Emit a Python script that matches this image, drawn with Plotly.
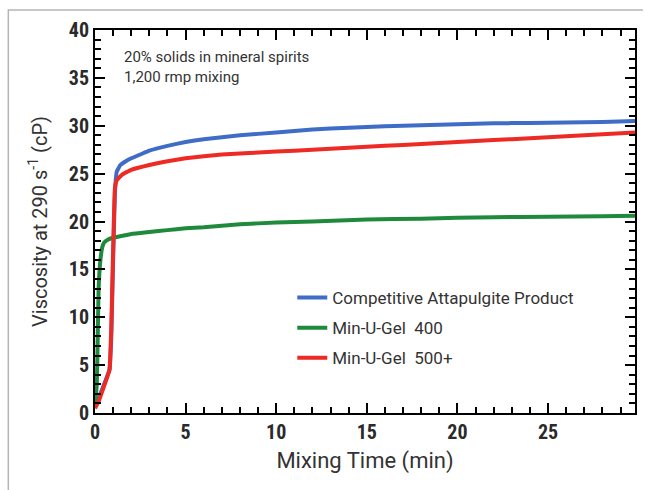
import plotly.graph_objects as go

# ---- data ----
blue_t = [0, 0.2, 0.5, 0.8, 0.9, 1.0, 1.1, 1.2, 1.4, 1.7, 2, 2.5, 3, 4, 5, 6, 8, 10, 12, 14, 16, 18, 20, 22, 24, 26, 28, 29.8]
blue_v = [0.8, 1.5, 3.0, 4.5, 8, 16, 23, 25.2, 25.9, 26.3, 26.6, 27.0, 27.4, 27.9, 28.3, 28.6, 29.0, 29.3, 29.6, 29.8, 29.95, 30.05, 30.15, 30.25, 30.3, 30.35, 30.4, 30.5]

green_t = [0, 0.1, 0.15, 0.2, 0.3, 0.4, 0.5, 0.7, 1, 1.5, 2, 3, 4, 5, 6, 8, 10, 12, 15, 18, 20, 22, 25, 28, 29.8]
green_v = [0.8, 3, 8, 13, 16, 17.3, 17.8, 18.1, 18.3, 18.5, 18.7, 18.9, 19.1, 19.3, 19.4, 19.7, 19.9, 20.0, 20.2, 20.3, 20.4, 20.45, 20.5, 20.55, 20.6]

red_t = [0, 0.2, 0.5, 0.8, 0.9, 1.0, 1.1, 1.2, 1.5, 2, 3, 4, 5, 7, 10, 12, 14, 16, 18, 20, 22, 24, 26, 28, 29.8]
red_v = [0.5, 1.2, 2.8, 4.5, 9, 17, 23.5, 24.3, 24.9, 25.4, 25.9, 26.3, 26.6, 27.0, 27.3, 27.5, 27.7, 27.9, 28.1, 28.3, 28.5, 28.7, 28.9, 29.1, 29.3]

series_names = ["Competitive Attapulgite Product", "Min-U-Gel  400", "Min-U-Gel  500+"]
series_colors = ["#3f6cc6", "#1f8a3c", "#ee2a24"]

x_ticks = [0, 5, 10, 15, 20, 25]
y_ticks = [0, 5, 10, 15, 20, 25, 30, 35, 40]

W, H = 645, 490
ML, MR, MT, MB = 95, 8, 30, 77
PW, PH = W - ML - MR, H - MT - MB

def px(x):
    return (x - ML) / PW

def py(y):
    return (H - MB - y) / PH

fig = go.Figure()
for i, (t, v) in enumerate([(blue_t, blue_v), (green_t, green_v), (red_t, red_v)]):
    fig.add_trace(go.Scatter(
        x=t, y=v, mode="lines", name=series_names[i],
        line=dict(color=series_colors[i], width=4, shape="spline", smoothing=0.3),
        legendgroup=f"g{i}",
    ))

tickfont = dict(family="Liberation Sans Narrow, Roboto Condensed, Arial Narrow, Roboto", size=20, color="#2a2a2a", weight="bold")
xtitlefont = dict(family="Roboto, Liberation Sans, Arial", size=22, color="#333333")
ytitlefont = dict(family="Roboto, Liberation Sans, Arial", size=20, color="#333333")

fig.update_layout(
    width=W, height=H,
    margin=dict(l=ML, r=MR, t=MT, b=MB),
    paper_bgcolor="white", plot_bgcolor="white",
    showlegend=True,
    legend=dict(x=px(293), y=py(280), xanchor="left", yanchor="top",
                font=dict(family="Roboto, Liberation Sans, Arial", size=17, color="#333333"),
                bgcolor="rgba(0,0,0,0)", tracegroupgap=5, traceorder="grouped",
                itemwidth=30),
    xaxis=dict(range=[0, 29.8], tickvals=x_ticks, ticks="inside", ticklen=10, tickwidth=2,
               tickcolor="black", showline=True, linecolor="black", linewidth=2, mirror="ticks",
               showgrid=False, zeroline=False, tickfont=tickfont,
               minor=dict(dtick=1, ticks="inside", ticklen=6, tickwidth=1.5, tickcolor="black", showgrid=False),
               title=dict(text="Mixing Time (min)", font=xtitlefont, standoff=10)),
    yaxis=dict(range=[0, 40], tickvals=y_ticks, ticks="inside", ticklen=10, tickwidth=2,
               tickcolor="black", showline=True, linecolor="black", linewidth=2, mirror="ticks",
               showgrid=False, zeroline=False, tickfont=tickfont,
               minor=dict(dtick=1, ticks="inside", ticklen=6, tickwidth=1.5, tickcolor="black", showgrid=False),
               title=dict(text="Viscosity at 290 s<sup>-1</sup> (cP)", font=ytitlefont, standoff=16)),
)

fig.add_annotation(
    xref="paper", yref="paper", x=px(122), y=py(46), xanchor="left", yanchor="top",
    text="20% solids in mineral spirits<br>1,200 rmp mixing", align="left", showarrow=False,
    font=dict(family="Roboto, Liberation Sans, Arial", size=15, color="#333333"),
)

# light gray outer border (left and top edges)
fig.add_shape(type="path", xref="paper", yref="paper",
              path=f"M {px(8)} {py(490)} L {px(8)} {py(10)} L {px(645)} {py(10)}",
              line=dict(color="#b5b5b5", width=1.5))

fig.write_html("out.html")
